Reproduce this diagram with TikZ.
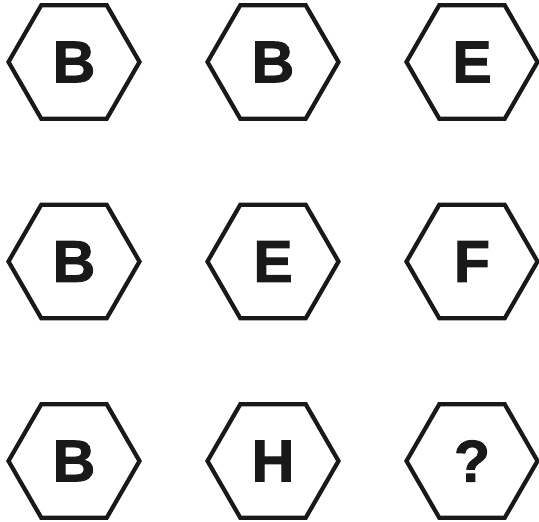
\documentclass[tikz,border=0pt]{standalone}
\usepackage{fontspec}
\setmainfont{Liberation Sans}
\newfontfamily\heavyfont[FakeBold=1.6]{Liberation Sans Bold}
\usetikzlibrary{positioning,shapes.geometric}

\begin{document}
\begin{tikzpicture}[
    x=1pt, y=1pt,
    node distance=199.5pt and 199pt, on grid,
    hex/.style={draw, regular polygon, regular polygon sides=6, minimum size=131pt,
                inner sep=0pt, line width=4.2pt, text=black!90, draw=black!90,
                font=\fontsize{59}{59}\selectfont\heavyfont}]
  \useasboundingbox (0,0) rectangle (539,-522);
  \node[hex] (b1) at (74,-62) {B};
  \node[hex, right=of b1] (b2) {B};
  \node[hex, right=of b2] (e1) {E};
  \node[hex, below=of b1] (b3) {B};
  \node[hex, right=of b3] (e2) {E};
  \node[hex, right=of e2] (f1) {F};
  \node[hex, below=of b3] (b4) {B};
  \node[hex, right=of b4] (h1) {H};
  \node[hex, right=of h1] (q) {?};
\end{tikzpicture}
\end{document}
